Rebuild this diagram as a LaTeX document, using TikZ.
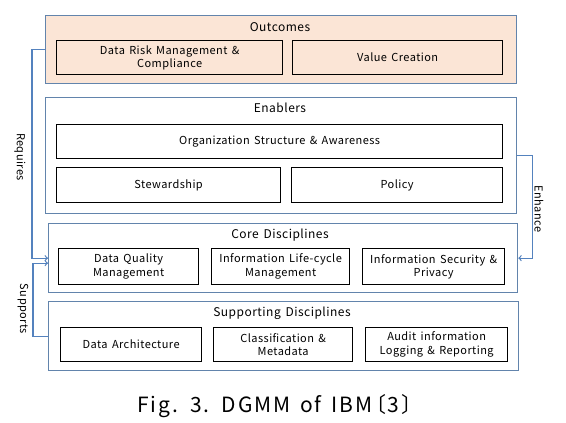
\documentclass[tikz,border=0pt]{standalone}
\usepackage{fontspec}
\setmainfont{Noto Sans CJK KR}[LetterSpace=4, WordSpace=1.5]
\usetikzlibrary{positioning}
\definecolor{peach}{RGB}{251,229,214}
\definecolor{frameblue}{RGB}{98,132,172}
\definecolor{linkblue}{RGB}{84,130,190}
\tikzset{
  outerbox/.style={draw=frameblue, line width=1.3pt, anchor=north west, inner sep=0pt},
  innerbox/.style={draw=black, line width=1.3pt, anchor=north west, align=center, inner sep=1pt,
    font=\fontsize{11}{13.5}\selectfont},
  boxtitle/.style={font=\fontsize{12}{14}\selectfont},
  link/.style={draw=linkblue, line width=1.2pt},
  linklabel/.style={rotate=-90, font=\fontsize{11}{13}\selectfont}
}
\begin{document}
\begin{tikzpicture}[x=1pt, y=-1pt]
    \useasboundingbox (0,0) rectangle (566,423);
    \fill[white] (0,0) rectangle (566,423);

    % Outcomes
    \node[outerbox, fill=peach, minimum width=471pt, minimum height=68pt] (outcomes) at (45,15) {};
    \node[boxtitle] (outtitle) at (280,27) {Outcomes};
    \node[innerbox, fill=peach, minimum width=226pt, minimum height=34pt] (risk) at (56,40) {Data Risk Management \&\\Compliance};
    \node[innerbox, fill=peach, minimum width=210pt, minimum height=34pt] (value) at (292,40) {Value Creation};

    % Enablers
    \node[outerbox, minimum width=471pt, minimum height=116pt] (enablers) at (45,97) {};
    \node[boxtitle] (entitle) at (280,108) {Enablers};
    \node[innerbox, minimum width=446pt, minimum height=34pt] (orgs) at (56,124) {Organization Structure \& Awareness};
    \node[innerbox, minimum width=224pt, minimum height=35pt] (steward) at (56,167) {Stewardship};
    \node[innerbox, minimum width=211pt, minimum height=35pt] (policy) at (291,167) {Policy};

    % Core disciplines
    \node[outerbox, minimum width=469pt, minimum height=69pt] (core) at (48,223) {};
    \node[boxtitle] (coretitle) at (280,235) {Core Disciplines};
    \node[innerbox, minimum width=140pt, minimum height=36pt] (quality) at (58,248) {Data Quality\\Management};
    \node[innerbox, minimum width=138pt, minimum height=36pt] (lifecycle) at (211,248) {Information Life-cycle\\Management};
    \node[innerbox, minimum width=142pt, minimum height=36pt] (security) at (362,248) {Information Security \&\\Privacy};

    % Supporting disciplines
    \node[outerbox, minimum width=470pt, minimum height=69pt] (support) at (48,301) {};
    \node[boxtitle] (suptitle) at (282,313) {Supporting Disciplines};
    \node[innerbox, minimum width=141pt, minimum height=34pt] (arch) at (60,327) {Data Architecture};
    \node[innerbox, minimum width=139pt, minimum height=34pt] (classif) at (213,327) {Classification \&\\Metadata};
    \node[innerbox, minimum width=142pt, minimum height=34pt] (audit) at (365,327) {Audit information\\Logging \& Reporting};

    % Links
    \coordinate (supin) at ([yshift=-5pt]core.west);
    \draw[link, ->] (outcomes.west) -- ++(-13,0) |- (core.west);
    \draw[link, ->] (support.west) -- ++(-15,0) |- (supin);
    \draw[link, ->] (enablers.east) -- ++(15,0) |- (core.east);
    \node[linklabel] (requires) at (20,157) {Requires};
    \node[linklabel] (supports) at (23,309) {Supports};
    \node[linklabel] (enhance) at (539,209) {Enhance};

    % Caption
    \node[font=\fontsize{21}{25}\selectfont\addfontfeatures{LetterSpace=9}] (caption) at (280,406) {Fig. 3. DGMM of IBM\kern-0.35em〔3〕};
\end{tikzpicture}
\end{document}
